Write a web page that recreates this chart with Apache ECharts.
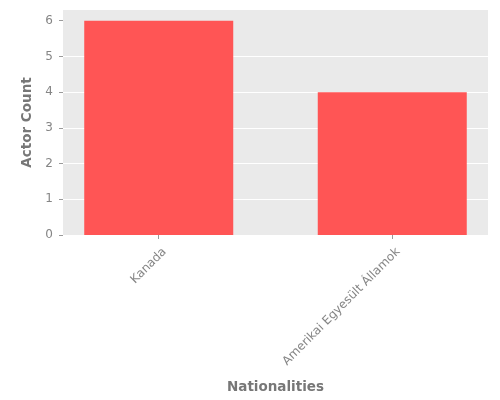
<!DOCTYPE html>
<html>
<head>
<meta charset="utf-8">
<script src="https://cdn.jsdelivr.net/npm/echarts@6/dist/echarts.min.js"></script>
<style>html,body{margin:0;padding:0;background:#fff}#c{width:500px;height:400px}</style>
</head>
<body>
<div id="c"></div>
<script>
const categories = ["Kanada", "Amerikai Egyesült Államok"];
const actorCounts = [6, 4];
const yTicks = [0, 1, 2, 3, 4, 5, 6];

const chart = echarts.init(document.getElementById('c'), null, {renderer: 'canvas'});
const positions = categories.map((_, i) => i);
const labelPositions = positions.map(p => p + 0.025);
const font = 'DejaVu Sans';
chart.setOption({
  animation: false,
  grid: {left: 63, right: 12, top: 10, bottom: 165, show: true, backgroundColor: '#EAEAEA', borderWidth: 0},
  xAxis: {
    type: 'value', min: -0.41, max: 1.41,
    name: 'Nationalities', nameLocation: 'middle', nameGap: 145,
    nameTextStyle: {fontFamily: font, fontSize: 13.5, fontWeight: 'bold', color: '#777777'},
    axisLine: {show: false, onZero: false},
    splitLine: {show: false},
    axisTick: {show: true, customValues: positions, length: 4, lineStyle: {color: '#9a9a9a'}},
    axisLabel: {customValues: labelPositions, rotate: 45, margin: 15, hideOverlap: false, fontFamily: font, fontSize: 12, color: '#858585',
      formatter: v => categories[Math.round(v)] || ''}
  },
  yAxis: {
    type: 'value', min: 0, max: 6.3, interval: 1,
    name: 'Actor Count', nameLocation: 'middle', nameGap: 21,
    nameTextStyle: {fontFamily: font, fontSize: 13.5, fontWeight: 'bold', color: '#777777'},
    axisLine: {show: false, onZero: false},
    splitLine: {show: true, showMaxLine: false, lineStyle: {color: '#ffffff', width: 1}},
    axisTick: {show: true, customValues: yTicks, length: 4, lineStyle: {color: '#9a9a9a'}},
    axisLabel: {customValues: yTicks, margin: 10, fontFamily: font, fontSize: 12, color: '#858585'}
  },
  series: [{
    type: 'bar',
    data: positions.map((p, i) => [p, actorCounts[i]]),
    barWidth: 149,
    itemStyle: {color: '#FF5555'}
  }]
});
</script>
</body>
</html>
